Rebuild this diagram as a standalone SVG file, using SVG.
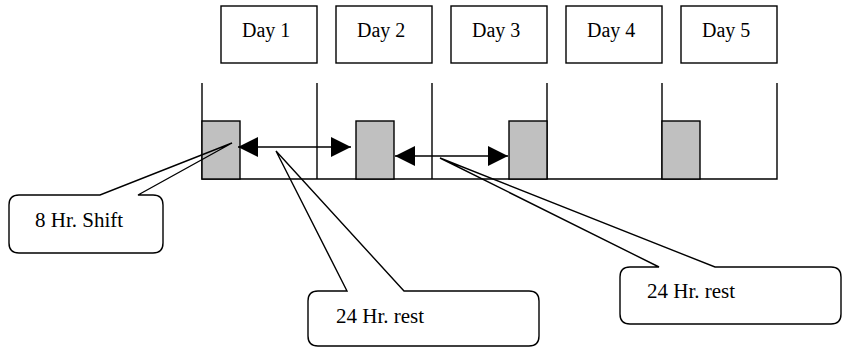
<svg xmlns="http://www.w3.org/2000/svg" width="842" height="347" viewBox="0 0 842 347">
<style>
.ln{stroke:#000;stroke-width:1.4;fill:none}
.box{stroke:#000;stroke-width:1.4;fill:#fff}
.shift{stroke:#000;stroke-width:1.4;fill:#c0c0c0}
.co{stroke:#000;stroke-width:1.4;fill:none;stroke-linejoin:miter}
.day{font-family:'Liberation Serif','DejaVu Serif',serif;font-size:20px;fill:#000}
.lbl{font-family:'Liberation Serif','DejaVu Serif',serif;font-size:21px;fill:#000}
</style>
<defs>
<marker id="ah" viewBox="0 0 20 20" refX="20" refY="10" markerWidth="20" markerHeight="20" markerUnits="userSpaceOnUse" orient="auto-start-reverse">
<path d="M0,0 L20,10 L0,20 Z" fill="#000"/>
</marker>
</defs>
<rect width="842" height="347" fill="#fff"/>
<g id="day1"><rect class="box" x="221" y="6" width="96" height="57"/><text class="day" x="242" y="37">Day 1</text></g>
<g id="day2"><rect class="box" x="336" y="6" width="96" height="57"/><text class="day" x="357" y="37">Day 2</text></g>
<g id="day3"><rect class="box" x="451" y="6" width="96" height="57"/><text class="day" x="472" y="37">Day 3</text></g>
<g id="day4"><rect class="box" x="566" y="6" width="96" height="57"/><text class="day" x="587" y="37">Day 4</text></g>
<g id="day5"><rect class="box" x="681" y="6" width="96" height="57"/><text class="day" x="702" y="37">Day 5</text></g>
<g id="timeline">
<path class="ln" d="M202,83 V179 H777 V83 M317,83 V179 M432,83 V179 M547,83 V179 M662,83 V179"/>
</g>
<g id="shift1"><rect class="shift" x="202" y="121" width="38" height="58"/></g>
<g id="shift2"><rect class="shift" x="356" y="121" width="38" height="58"/></g>
<g id="shift3"><rect class="shift" x="509" y="121" width="38" height="58"/></g>
<g id="shift4"><rect class="shift" x="662" y="121" width="38" height="58"/></g>
<g id="connectors">
<line class="ln" x1="238" y1="147" x2="351" y2="147" marker-start="url(#ah)" marker-end="url(#ah)"/>
<line class="ln" x1="395" y1="156" x2="508" y2="156" marker-start="url(#ah)" marker-end="url(#ah)"/>
</g>
<g id="callout-shift">
<path class="co" d="M19,195 L100,195 L232,143 L138,195 L153,195 Q163,195 163,205 L163,243 Q163,253 153,253 L19,253 Q9,253 9,243 L9,205 Q9,195 19,195 Z"/>
<text class="lbl" x="35" y="227">8 Hr. Shift</text>
</g>
<g id="callout-rest1">
<path class="co" d="M318,291 L347,291 L276,151 L404,291 L529,291 Q539,291 539,301 L539,336 Q539,346 529,346 L318,346 Q308,346 308,336 L308,301 Q308,291 318,291 Z"/>
<text class="lbl" x="336" y="323">24 Hr. rest</text>
</g>
<g id="callout-rest2">
<path class="co" d="M630,267 L659,267 L440,158 L715,267 L831,267 Q841,267 841,277 L841,314 Q841,324 831,324 L630,324 Q620,324 620,314 L620,277 Q620,267 630,267 Z"/>
<text class="lbl" x="647" y="298">24 Hr. rest</text>
</g>
</svg>
